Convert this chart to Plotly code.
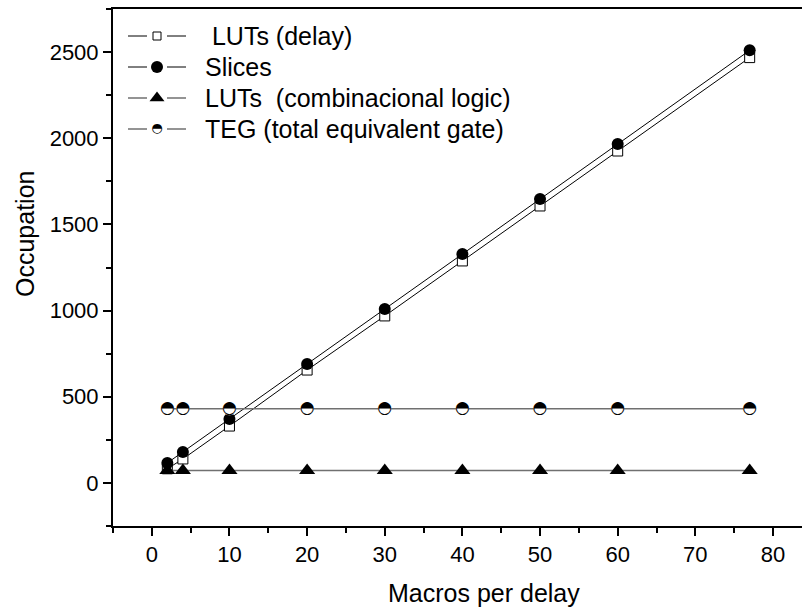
import plotly.graph_objects as go

# ---- data ----
macros = [2, 4, 10, 20, 30, 40, 50, 60, 77]
luts_delay = [82, 139, 330, 655, 969, 1288, 1607, 1926, 2468]
slices = [116, 180, 371, 690, 1009, 1328, 1647, 1966, 2510]
luts_comb = [72, 72, 72, 72, 72, 72, 72, 72, 72]
teg = [430, 430, 430, 430, 430, 430, 430, 430, 430]

series_names = [
    "\u00a0LUTs (delay)",
    "Slices",
    "LUTs\u00a0\u00a0(combinacional logic)",
    "TEG (total equivalent gate)",
]
x_ticks = [0, 10, 20, 30, 40, 50, 60, 70, 80]
y_ticks = [0, 500, 1000, 1500, 2000, 2500]

FONT = "Liberation Sans, Arial, sans-serif"
GRAY = "#707070"
HALF = "\u25d3"  # circle with upper half black

fig = go.Figure()

# ---- data traces ----
fig.add_trace(go.Scatter(
    x=macros, y=luts_delay, mode="lines+markers", name=series_names[0],
    line=dict(color="black", width=1),
    marker=dict(symbol="square", size=10, color="white", line=dict(color="black", width=1)),
    showlegend=False))
fig.add_trace(go.Scatter(
    x=macros, y=slices, mode="lines+markers", name=series_names[1],
    line=dict(color="black", width=1),
    marker=dict(symbol="circle", size=12, color="black", line=dict(width=0)),
    showlegend=False))
fig.add_trace(go.Scatter(
    x=macros, y=luts_comb, mode="lines+markers", name=series_names[2],
    line=dict(color=GRAY, width=1.5),
    marker=dict(symbol="triangle-up", size=14, color="black", line=dict(width=0)),
    showlegend=False))
fig.add_trace(go.Scatter(
    x=macros, y=teg, mode="lines+markers", name=series_names[3],
    line=dict(color=GRAY, width=1.5),
    marker=dict(symbol="circle", size=13, color="white", line=dict(width=0)),
    showlegend=False))
fig.add_trace(go.Scatter(
    x=macros, y=teg, mode="text", text=[HALF] * len(macros),
    textposition="middle center",
    textfont=dict(family="DejaVu Sans", size=17, color="black"),
    showlegend=False, hoverinfo="skip"))

# ---- manual legend on a pixel-scaled overlay axis ----
W, H = 689, 517
row0, gap = 27, 31
seg_a, seg_b, mk_x, seg_c, seg_d, txt_x = 15, 34, 44, 54, 73, 90
leg_styles = [
    dict(lc="black", lw=1, sym="square", ms=8, mc="white", mlw=1),
    dict(lc="black", lw=1, sym="circle", ms=12, mc="black", mlw=0),
    dict(lc=GRAY, lw=1.5, sym="triangle-up", ms=13, mc="black", mlw=0),
    dict(lc=GRAY, lw=1.5, sym=None, ms=13, mc="black", mlw=0),
]
for i, (nm, st) in enumerate(zip(series_names, leg_styles)):
    yy = row0 + i * gap
    fig.add_trace(go.Scatter(
        x=[seg_a, seg_b, None, seg_c, seg_d], y=[yy, yy, None, yy, yy],
        mode="lines", line=dict(color=st["lc"], width=st["lw"]),
        xaxis="x2", yaxis="y2", showlegend=False, hoverinfo="skip"))
    if st["sym"]:
        fig.add_trace(go.Scatter(
            x=[mk_x], y=[yy], mode="markers",
            marker=dict(symbol=st["sym"], size=st["ms"], color=st["mc"],
                        line=dict(color="black", width=st["mlw"])),
            xaxis="x2", yaxis="y2", showlegend=False, hoverinfo="skip"))
    else:
        fig.add_trace(go.Scatter(
            x=[mk_x], y=[yy], mode="text", text=[HALF],
            textposition="middle center",
            textfont=dict(family="DejaVu Sans", size=st["ms"], color="black"),
            xaxis="x2", yaxis="y2", showlegend=False, hoverinfo="skip"))
    fig.add_annotation(x=txt_x, y=yy, xref="x2", yref="y2", text=nm,
                       showarrow=False, xanchor="left", yanchor="middle",
                       font=dict(family=FONT, size=25, color="black"))

# ---- axis titles ----
fig.add_annotation(x=0.5385, y=-0.1296, xref="paper", yref="paper",
                   text="Macros per delay", showarrow=False,
                   xanchor="center", yanchor="middle",
                   font=dict(family=FONT, size=25, color="black"))
fig.add_annotation(x=-0.1277, y=0.5648, xref="paper", yref="paper",
                   text="Occupation", showarrow=False, textangle=-90,
                   xanchor="center", yanchor="middle",
                   font=dict(family=FONT, size=25, color="black"))

fig.update_layout(
    width=802, height=607,
    margin=dict(l=113, r=0, t=9, b=81),
    paper_bgcolor="white", plot_bgcolor="white",
    showlegend=False,
    font=dict(family=FONT, color="black"),
    xaxis=dict(
        range=[-5, 83.74], tickmode="array", tickvals=x_ticks,
        ticks="outside", ticklen=8, tickwidth=2, tickcolor="black",
        showline=True, linewidth=2, linecolor="black", mirror=True,
        showgrid=False, zeroline=False,
        tickfont=dict(family=FONT, size=22, color="black"),
        minor=dict(dtick=5, tick0=0, ticks="outside", ticklen=5, tickwidth=2,
                   tickcolor="black", showgrid=False),
    ),
    yaxis=dict(
        range=[-250, 2750], tickmode="array", tickvals=y_ticks,
        ticks="outside", ticklen=8, tickwidth=2, tickcolor="black",
        showline=True, linewidth=2, linecolor="black", mirror=False,
        showgrid=False, zeroline=False,
        tickfont=dict(family=FONT, size=22, color="black"),
        minor=dict(dtick=250, tick0=0, ticks="outside", ticklen=5, tickwidth=2,
                   tickcolor="black", showgrid=False),
    ),
    xaxis2=dict(overlaying="x", anchor="y2", range=[0, W], visible=False,
                fixedrange=True),
    yaxis2=dict(overlaying="y", anchor="x2", range=[H, 0], visible=False,
                fixedrange=True),
)

fig.write_html("out.html")
